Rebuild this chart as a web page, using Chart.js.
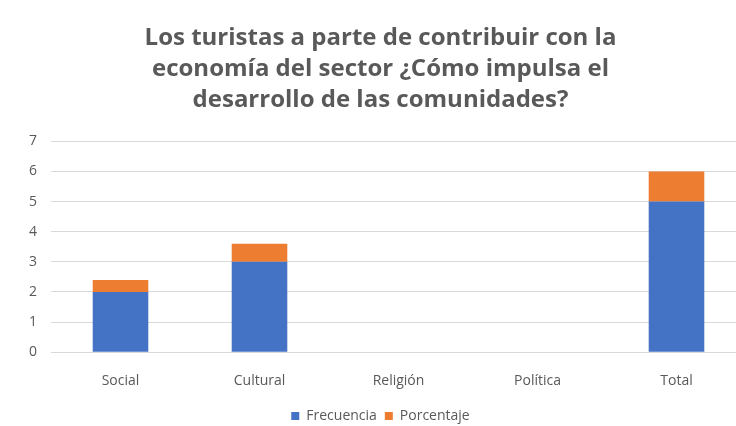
<!DOCTYPE html>
<html lang="es">
<head>
    <meta charset="UTF-8">
    <title>Desarrollo de las comunidades</title>
    <script src="https://cdn.jsdelivr.net/npm/chart.js"></script>
    <style>
        body {
            margin: 0;
            padding: 0;
            background-color: #fff;
            overflow: hidden;
        }

        .chart-container {
            position: relative;
            width: 746px;
            height: 426px;
        }
    </style>
</head>
<body>
    <div class="chart-container">
        <canvas id="comunidadesChart"></canvas>
    </div>

    <script>
        // Categorías y series
        const categorias = ['Social', 'Cultural', 'Religión', 'Política', 'Total'];
        const frecuencia = [2, 3, 0, 0, 5];
        const porcentaje = [0.4, 0.6, 0, 0, 1];
        const titulo = [
            'Los turistas a parte de contribuir con la',
            'economía del sector ¿Cómo impulsa el',
            'desarrollo de las comunidades?'
        ];

        const fuente = "'Open Sans', Lato, sans-serif";
        const gris = '#595959';

        const ctx = document.getElementById('comunidadesChart').getContext('2d');
        new Chart(ctx, {
            type: 'bar',
            data: {
                labels: categorias,
                datasets: [{
                    label: 'Frecuencia',
                    data: frecuencia,
                    backgroundColor: '#4472C4'
                }, {
                    label: 'Porcentaje',
                    data: porcentaje,
                    backgroundColor: '#ED7D31'
                }]
            },
            options: {
                responsive: true,
                maintainAspectRatio: false,
                animation: false,
                datasets: {
                    bar: {
                        categoryPercentage: 1.0,
                        barPercentage: 0.4
                    }
                },
                layout: {
                    padding: { left: 15, right: 0, top: 8, bottom: -7 }
                },
                scales: {
                    x: {
                        stacked: true,
                        grid: { display: false },
                        border: { color: '#d9d9d9' },
                        ticks: {
                            color: gris,
                            font: { family: fuente, size: 14 },
                            padding: 12
                        }
                    },
                    y: {
                        stacked: true,
                        min: 0,
                        max: 7,
                        ticks: {
                            stepSize: 1,
                            color: gris,
                            font: { family: fuente, size: 14 },
                            padding: 14
                        },
                        grid: {
                            color: '#d9d9d9',
                            drawTicks: false
                        },
                        border: { display: false }
                    }
                },
                plugins: {
                    title: {
                        display: true,
                        text: titulo,
                        color: gris,
                        font: { family: fuente, size: 24, weight: 'bold', lineHeight: 1.31 },
                        padding: { top: 14, bottom: 25 }
                    },
                    legend: {
                        position: 'bottom',
                        labels: {
                            color: gris,
                            font: { family: fuente, size: 14 },
                            boxWidth: 8,
                            boxHeight: 8,
                            padding: 8
                        }
                    },
                    tooltip: { enabled: false }
                }
            }
        });
    </script>
</body>
</html>
